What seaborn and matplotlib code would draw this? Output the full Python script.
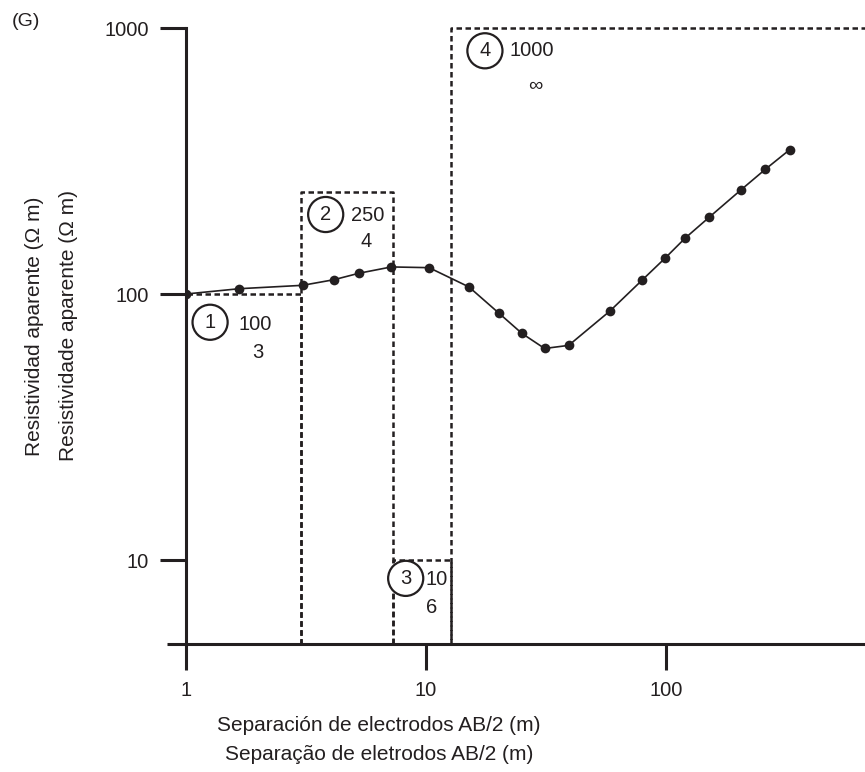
import matplotlib
matplotlib.use("Agg")
import matplotlib.pyplot as plt
from matplotlib.ticker import NullLocator, FixedLocator
import seaborn as sns
import pandas as pd

# ---------------- data ----------------
ab2 = [1.0, 1.67, 3.06, 4.14, 5.26, 7.17, 10.3, 15.1, 20.1, 25.1,
       31.2, 39.3, 58.4, 79.4, 99.3, 120, 151, 205, 259, 328]
rho_app = [100, 104.7, 107.8, 113.2, 119.7, 126.4, 125.6, 106.3, 84.8, 71.1,
           62.4, 64.1, 86.3, 112.6, 136.6, 162, 194, 246, 294, 349]

layer_start = [1.0, 3.0, 7.26, 12.7]
layer_end = [3.0, 7.26, 12.7, 5000.0]
layer_rho = [100, 242, 10, 1000]
layer_num = ["1", "2", "3", "4"]
layer_rho_label = ["100", "250", "10", "1000"]
layer_h_label = ["3", "4", "6", "\u221e"]

x_ticks = [1, 10, 100]
x_tick_labels = ["1", "10", "100"]
y_ticks = [10, 100, 1000]
y_tick_labels = ["10", "100", "1000"]

xlabel = "Separación de electrodos AB/2 (m)\nSeparação de eletrodos AB/2 (m)"
ylabel = "Resistividad aparente (\u03a9 m)\nResistividade aparente (\u03a9 m)"
panel = "(G)"

# annotation placement (data coords): circle, rho label, thickness label
circ_pos = [(1.26, 78.3), (3.82, 199), (8.23, 8.53), (17.6, 821)]
rho_pos = [(1.94, 76.8), (5.73, 198), (11.08, 8.48), (27.6, 821)]
h_pos = [(2.0, 60.2), (5.62, 158), (10.56, 6.65), (28.5, 610)]

# ---------------- style ----------------
sns.set_theme(style="ticks")
plt.rcParams["font.family"] = ["Liberation Sans", "DejaVu Sans"]
INK = "#231f20"
FS = 14.5
LFS = 15

fig = plt.figure(figsize=(8.65, 7.72), dpi=100)
W, H = 865, 772
ax = fig.add_axes([186 / W, (H - 644) / H, (W - 186) / W, (644 - 28) / H])
ax.set_xscale("log")
ax.set_yscale("log")
XMAX = 10 ** ((W - 186) / 240)
YMIN = 10 ** (3 - (644 - 28) / 266)
ax.set_xlim(1, XMAX)
ax.set_ylim(YMIN, 1000)

df = pd.DataFrame({"ab2": ab2, "rho": rho_app})
sns.lineplot(data=df, x="ab2", y="rho", ax=ax, color=INK, linewidth=1.2,
             marker="o", markersize=7, markeredgewidth=0, sort=False)

# layered model as dashed boxes
ymin = ax.get_ylim()[0]
for x0, x1, r in zip(layer_start, layer_end, layer_rho):
    ax.plot([x0, x0, x1, x1], [ymin, r, r, ymin], color=INK, lw=1.8,
            linestyle=(0, (2.2, 1.4)), clip_on=False, zorder=1)

for num, (cx, cy), rl, (rx, ry), hl, (hx, hy) in zip(
        layer_num, circ_pos, layer_rho_label, rho_pos, layer_h_label, h_pos):
    ax.text(cx, cy, num, ha="center", va="center", fontsize=FS, color=INK,
            bbox=dict(boxstyle="circle,pad=0.4", fc="white", ec=INK, lw=1.6),
            zorder=5)
    ax.text(rx, ry, rl, ha="center", va="center", fontsize=FS, color=INK, zorder=5)
    ax.text(hx, hy, hl, ha="center", va="center", fontsize=FS, color=INK, zorder=5)

# axes styling
for s in ["top", "right"]:
    ax.spines[s].set_visible(False)
for s in ["left", "bottom"]:
    ax.spines[s].set_linewidth(2.2)
    ax.spines[s].set_color(INK)

ax.xaxis.set_major_locator(FixedLocator(x_ticks))
ax.set_xticklabels(x_tick_labels)
ax.xaxis.set_minor_locator(NullLocator())
ax.yaxis.set_major_locator(FixedLocator(y_ticks))
ax.set_yticklabels(y_tick_labels)
ax.yaxis.set_minor_locator(FixedLocator([ymin]))
ax.yaxis.set_minor_formatter(plt.NullFormatter())

ax.tick_params(axis="both", which="major", direction="out", length=19,
               width=2.2, color=INK, labelcolor=INK, labelsize=FS, pad=8)
ax.tick_params(axis="y", which="minor", direction="out", length=14,
               width=2.2, color=INK)

ax.set_xlabel(xlabel, fontsize=LFS, color=INK, linespacing=1.7, va="center")
ax.xaxis.set_label_coords(379 / W, 1 - 740 / H, transform=fig.transFigure)
ax.set_ylabel(ylabel, fontsize=LFS, color=INK, linespacing=2.0, va="center")
ax.yaxis.set_label_coords(52 / W, 1 - 326 / H, transform=fig.transFigure)

fig.text(26 / W, 1 - 21 / H, panel, ha="center", va="center", fontsize=14, color=INK)

ax.grid(False)
fig.savefig("out.png", dpi=100, facecolor="white")
